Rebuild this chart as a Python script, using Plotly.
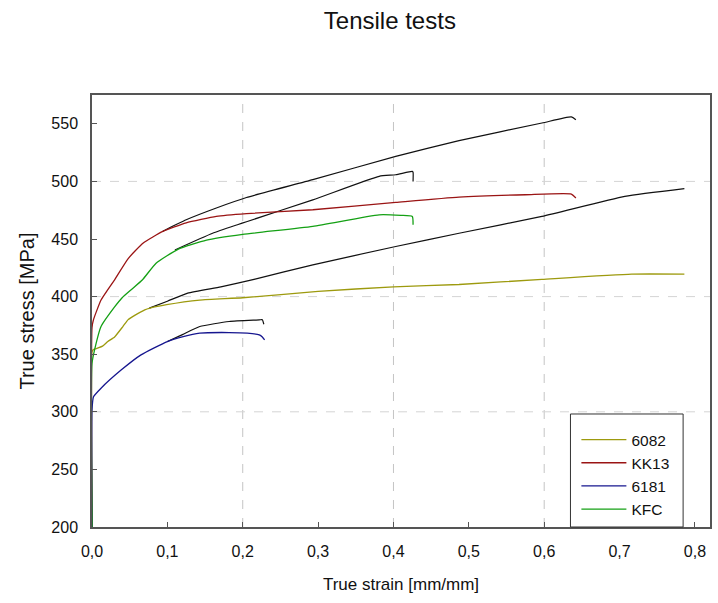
import plotly.graph_objects as go

# ---- data (true strain [mm/mm], true stress [MPa]) ----
s6082_x = [0, 0, 0.002, 0.014, 0.021, 0.03, 0.041, 0.048, 0.055, 0.07, 0.077, 0.099, 0.143, 0.2, 0.3, 0.4, 0.487, 0.597, 0.716, 0.786]
s6082_y = [200, 352, 354, 357, 361, 365, 374, 380, 383, 388.5, 390, 393, 397, 399, 404.5, 408.5, 410.5, 415, 419.5, 419.5]

kk13_x = [0, 0, 0.002, 0.012, 0.021, 0.03, 0.048, 0.068, 0.094, 0.125, 0.165, 0.205, 0.293, 0.403, 0.487, 0.575, 0.636, 0.642]
kk13_y = [200, 373, 380, 397, 406, 414.6, 433, 446.5, 456.6, 464, 469.6, 472, 475.4, 481.8, 486.4, 488.4, 489, 485.6]

s6181_x = [0, 0, 0.002, 0.012, 0.039, 0.065, 0.1, 0.121, 0.143, 0.182, 0.206, 0.222, 0.226, 0.229]
s6181_y = [200, 301.6, 313, 320.5, 336.4, 349.4, 361, 365.3, 368.3, 368.8, 368.3, 366.8, 365, 362.5]

kfc_x = [0, 0, 0.0035, 0.012, 0.03, 0.04, 0.052, 0.067, 0.085, 0.114, 0.152, 0.2, 0.293, 0.381, 0.41, 0.425, 0.426]
kfc_y = [200, 342, 354, 374, 391, 399, 406, 414.6, 429, 441, 449, 454, 461, 471, 470.5, 469.6, 462.4]

# black (fitted) curves, not in legend
fit_kk13_x = [0.094, 0.125, 0.165, 0.205, 0.293, 0.403, 0.487, 0.597, 0.636, 0.642]
fit_kk13_y = [456.8, 466.7, 476.9, 486, 501.5, 521.7, 535.4, 550.7, 556, 553.6]

fit_kfc_x = [0.11, 0.16, 0.193, 0.205, 0.293, 0.381, 0.403, 0.425, 0.426, 0.426]
fit_kfc_y = [440.5, 455, 462.4, 465, 484, 504.4, 505.8, 508.7, 508, 500]

fit_6082_x = [0.076, 0.1, 0.127, 0.171, 0.215, 0.293, 0.403, 0.487, 0.597, 0.707, 0.786]
fit_6082_y = [390, 396, 403, 408.5, 415, 427.6, 443.5, 455, 469.6, 487, 493.7]

fit_6181_x = [0.1, 0.12, 0.143, 0.182, 0.222, 0.226, 0.228]
fit_6181_y = [361, 367, 374, 378.4, 379.8, 380, 376]

x_ticks = [0, 0.1, 0.2, 0.3, 0.4, 0.5, 0.6, 0.7, 0.8]
y_ticks = [200, 250, 300, 350, 400, 450, 500, 550]
x_grid = [0.2, 0.4, 0.6]
y_grid = [300, 400, 500]
x_top_ticks = [0.1, 0.3, 0.5, 0.7]
y_right_ticks = [250, 350, 450, 550]

X_RANGE = [0, 0.82]
Y_RANGE = [200, 575]

FONT = "Liberation Sans, Arial, sans-serif"
AXIS_COL = "#555555"

fig = go.Figure()

for fx, fy in [(fit_kk13_x, fit_kk13_y), (fit_kfc_x, fit_kfc_y),
               (fit_6082_x, fit_6082_y), (fit_6181_x, fit_6181_y)]:
    fig.add_trace(go.Scatter(x=fx, y=fy, mode="lines", showlegend=False,
                             line=dict(color="#111111", width=1.2, shape="spline", smoothing=0.5),
                             hoverinfo="skip"))

series = [
    ("6082", s6082_x, s6082_y, "#9d9a0e"),
    ("KK13", kk13_x, kk13_y, "#9a1414"),
    ("6181", s6181_x, s6181_y, "#16168f"),
    ("KFC", kfc_x, kfc_y, "#14a014"),
]
for name, sx, sy, col in series:
    fig.add_trace(go.Scatter(x=sx, y=sy, mode="lines", name=name,
                             line=dict(color=col, width=1.3, shape="spline", smoothing=0.5)))

shapes = []
for gx in x_grid:
    shapes.append(dict(type="line", xref="x", yref="y", x0=gx, x1=gx, y0=Y_RANGE[0], y1=Y_RANGE[1],
                       line=dict(color="#c4c4c4", width=1, dash="dash"), layer="below"))
for gy in y_grid:
    shapes.append(dict(type="line", xref="x", yref="y", x0=X_RANGE[0], x1=X_RANGE[1], y0=gy, y1=gy,
                       line=dict(color="#d4d4d4", width=1, dash="dash"), layer="below"))
# legend frame
shapes.append(dict(type="rect", xref="paper", yref="paper", x0=0.7742, x1=0.9565, y0=0.0, y1=0.2616,
                   line=dict(color="#333333", width=1), fillcolor="white", layer="above"))

fig.update_layout(
    width=718, height=603,
    margin=dict(l=92, r=6, t=95, b=76),
    paper_bgcolor="white", plot_bgcolor="white",
    separators=", ",
    font=dict(family=FONT, color="#111111", size=16),
    title=dict(text="Tensile tests", font=dict(size=24, family=FONT, color="#111111"),
               x=0.543, xref="container", xanchor="center", y=0.966, yref="container", yanchor="middle"),
    shapes=shapes,
    xaxis=dict(range=X_RANGE, tickvals=x_ticks, tickformat=".1f", showgrid=False, zeroline=False,
               ticks="inside", ticklen=5, tickcolor=AXIS_COL, showline=True, linecolor=AXIS_COL,
               linewidth=1.5, mirror=True, tickfont=dict(size=16), ticklabelstandoff=9,
               title=dict(text="True strain [mm/mm]", font=dict(size=17), standoff=19)),
    yaxis=dict(range=Y_RANGE, tickvals=y_ticks, showgrid=False, zeroline=False,
               ticks="inside", ticklen=5, tickcolor=AXIS_COL, showline=True, linecolor=AXIS_COL,
               linewidth=1.5, mirror=True, tickfont=dict(size=16), ticklabelstandoff=9,
               title=dict(text="True stress [MPa]", font=dict(size=20), standoff=11)),
    xaxis2=dict(range=X_RANGE, overlaying="x", side="top", anchor="y", tickvals=x_top_ticks,
                ticks="inside", ticklen=5, tickcolor=AXIS_COL, showticklabels=False,
                showgrid=False, zeroline=False, showline=False),
    yaxis2=dict(range=Y_RANGE, overlaying="y", side="right", anchor="x", tickvals=y_right_ticks,
                ticks="inside", ticklen=5, tickcolor=AXIS_COL, showticklabels=False,
                showgrid=False, zeroline=False, showline=False),
    legend=dict(x=0.7838, y=0.2407, xanchor="left", yanchor="top", bgcolor="rgba(0,0,0,0)",
                borderwidth=0, font=dict(size=15.5),
                itemwidth=45, tracegroupgap=0),
    showlegend=True,
)

fig.write_html("out.html")
